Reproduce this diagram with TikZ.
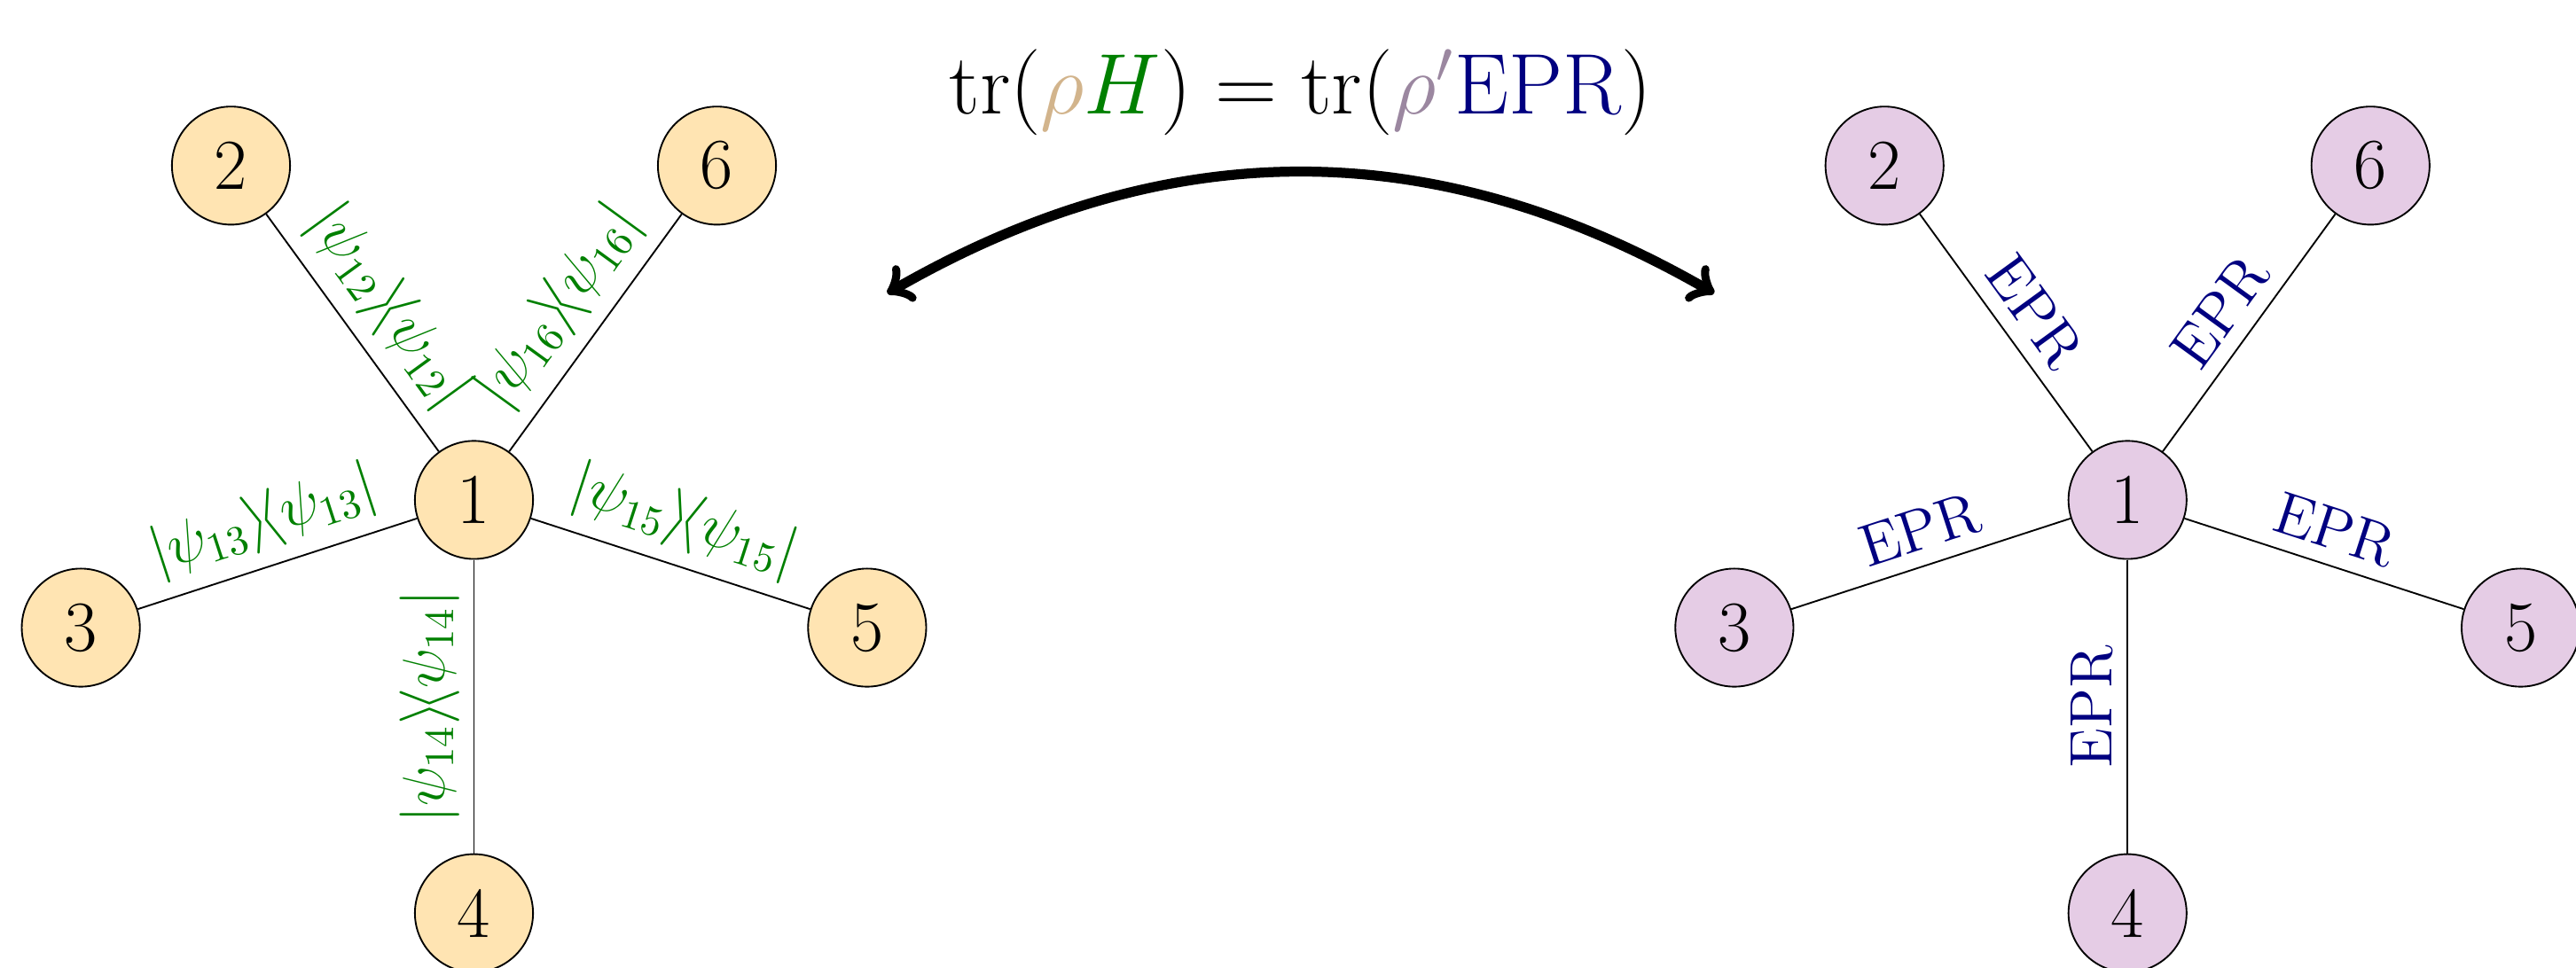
\documentclass[tikz,border=0pt]{standalone}
\usepackage{amsmath,amssymb}
\usepackage{xcolor}
\usepackage{tikz}

\definecolor{hamgreen}{RGB}{0,128,0}
\definecolor{eprblue}{RGB}{0,0,128}
\definecolor{rhotan}{RGB}{210,180,140}
\definecolor{rhopurple}{RGB}{155,135,160}
\definecolor{siteorange}{RGB}{255,165,0}
\definecolor{sitepurple}{RGB}{229,204,229}

\begin{document}
\begin{tikzpicture}[
  site/.style={circle, draw, minimum size=1cm, inner sep=0pt, font=\LARGE},
  hterm/.style={sloped, above, font=\Large, text=hamgreen},
  eprterm/.style={sloped, above, font=\Large, text=eprblue}]
  \useasboundingbox (-4.013,-3.957) rectangle (17.797,4.234);
  % left star: local Hamiltonian terms
  \node[site, fill=siteorange!30] (a1) at (0,0) {1};
  \foreach \k/\ang in {2/126,3/198,4/270,5/342,6/54} {
    \node[site, fill=siteorange!30] (a\k) at (\ang:3.5) {\k};
  }
  \foreach \s/\t/\k in {a2/a1/2,a3/a1/3,a4/a1/4,a1/a5/5,a1/a6/6} {
    \draw (\s) -- node[hterm] {$|\psi_{1\k}\rangle\!\langle\psi_{1\k}|$} (\t);
  }
  % right star: EPR pairs
  \begin{scope}[xshift=14cm]
    \node[site, fill=sitepurple] (b1) at (0,0) {1};
    \foreach \k/\ang in {2/126,3/198,4/270,5/342,6/54} {
      \node[site, fill=sitepurple] (b\k) at (\ang:3.5) {\k};
    }
  \end{scope}
  \foreach \s/\t in {b2/b1,b3/b1,b4/b1,b1/b5,b1/b6} {
    \draw (\s) -- node[eprterm] {EPR} (\t);
  }
  % equivalence arrow
  \coordinate (arrL) at (3.5,1.75);
  \coordinate (arrR) at (10.5,1.75);
  \draw[<->, line width=2.4pt] (arrL) to[bend left=30] (arrR);
  \node[font=\huge] (trace) at (7,3.45)
    {$\operatorname{tr}(\textcolor{rhotan}{\rho}\textcolor{hamgreen}{H})
      = \operatorname{tr}(\textcolor{rhopurple}{\rho'}\textcolor{eprblue}{\mathrm{EPR}})$};
\end{tikzpicture}
\end{document}
